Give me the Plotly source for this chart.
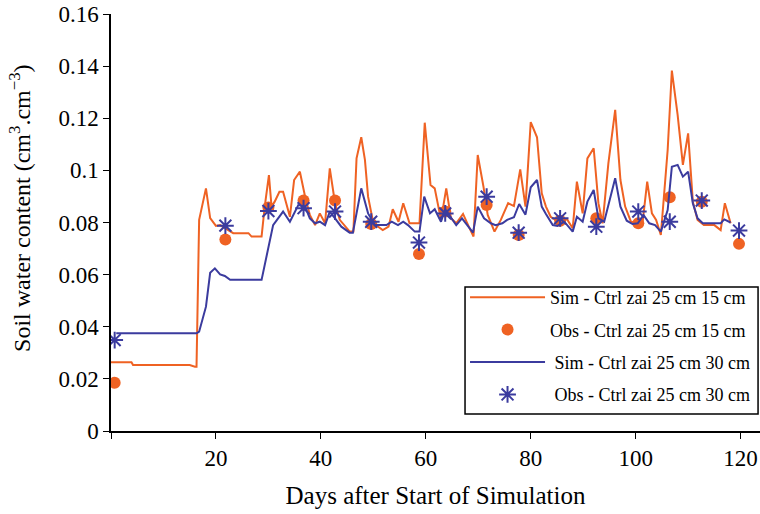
import plotly.graph_objects as go

# Simulated soil water content, 15 cm (orange line) - vertices
sim15_day = [0, 3.9, 4.2, 15, 16, 16.3, 16.8, 18.1, 18.9, 20, 20.8, 23.3, 26.2, 26.8, 28.7,
             29.3, 30.1, 30.6, 31.2, 32.1, 32.8, 34.1, 34.9, 36, 37, 37.9, 38.9, 39.8, 40.8,
             41.7, 42.7, 43.6, 45.5, 46.2, 46.8, 47.7, 48.4, 49, 50, 51.8, 52.9, 53.7, 54.8,
             55.7, 56.9, 58.8, 59.8, 60.9, 61.7, 62.9, 63.9, 64.8, 65.8, 67.1, 68.2, 69.1,
             69.9, 71, 71.8, 73.1, 74.3, 75.7, 76.8, 78, 79, 80, 81.2, 82.1, 82.9, 83.8, 84.9,
             85.7, 87, 88, 88.8, 89.9, 90.8, 92, 92.9, 93.7, 94.8, 96.1, 97.1, 98, 99.1, 101.3,
             102.2, 103.1, 103.9, 104.8, 106.1, 106.9, 108, 109, 110, 110.9, 111.8, 113, 115,
             116.2, 117, 118.1]
sim15_val = [0.0264, 0.0264, 0.0253, 0.0253, 0.0247, 0.0247, 0.081, 0.0931, 0.0817, 0.0787,
             0.079, 0.0759, 0.0759, 0.0746, 0.0746, 0.0861, 0.0982, 0.0861, 0.088, 0.0918,
             0.0918, 0.0822, 0.0963, 0.0995, 0.0899, 0.0829, 0.079, 0.0835, 0.0797, 0.1008,
             0.0874, 0.081, 0.0765, 0.0765, 0.1046, 0.1127, 0.104, 0.0899, 0.0797, 0.0771,
             0.0784, 0.0851, 0.0803, 0.0874, 0.0797, 0.0797, 0.1183, 0.0944, 0.0931, 0.081,
             0.0931, 0.0816, 0.0797, 0.0833, 0.0784, 0.0746, 0.1059, 0.0937, 0.0829, 0.0765,
             0.081, 0.0874, 0.0863, 0.1004, 0.0861, 0.1185, 0.1127, 0.0912, 0.0861, 0.0822,
             0.0807, 0.0816, 0.081, 0.0778, 0.0957, 0.0835, 0.1046, 0.1085, 0.0874, 0.0797,
             0.1027, 0.1232, 0.0963, 0.0861, 0.0803, 0.0797, 0.0957, 0.0835, 0.081, 0.0752,
             0.1078, 0.1383, 0.1213, 0.1021, 0.1142, 0.088, 0.081, 0.079, 0.079, 0.0771,
             0.0874, 0.0797]

# Simulated soil water content, 30 cm (blue line)
sim30_day = [1, 16.3, 16.8, 18.1, 18.9, 19.8, 20.8, 21.7, 22.7, 28.7, 30.9, 32.8, 34.1, 35.7,
             37, 37.9, 38.9, 39.8, 40.8, 41.7, 42.7, 43.9, 45.5, 46.1, 47.7, 49, 50.3, 52.5,
             53.5, 54.7, 55.7, 56.6, 57.9, 58.8, 59.7, 60.8, 61.7, 62.9, 63.7, 64.7, 65.8,
             66.9, 67.9, 69, 69.9, 71.1, 72.4, 73.3, 74.6, 75.5, 76.8, 77.8, 79, 80, 81.2,
             82.1, 82.9, 84.2, 85.1, 86.4, 88, 88.8, 89.9, 90.8, 92, 92.9, 94, 96.1, 97.1,
             98.3, 99.4, 100.4, 101.5, 102.6, 103.7, 104.8, 106.1, 106.9, 108, 109, 110,
             110.9, 111.8, 112.8, 116.2, 116.9, 118.1]
sim30_val = [0.0375, 0.0375, 0.0381, 0.0477, 0.0607, 0.0624, 0.0601, 0.0595, 0.058, 0.058,
             0.079, 0.0842, 0.0803, 0.0867, 0.0861, 0.0816, 0.0797, 0.0803, 0.079, 0.0842,
             0.0816, 0.0784, 0.0761, 0.0761, 0.0931, 0.0835, 0.079, 0.079, 0.0803, 0.079,
             0.0803, 0.079, 0.0765, 0.0765, 0.0899, 0.0835, 0.0851, 0.0803, 0.0851, 0.0822,
             0.079, 0.0816, 0.079, 0.0761, 0.0861, 0.0816, 0.0797, 0.079, 0.0797, 0.081,
             0.082, 0.0871, 0.083, 0.0935, 0.0963, 0.0861, 0.0833, 0.079, 0.0787, 0.0803,
             0.0765, 0.0822, 0.0803, 0.088, 0.0925, 0.0816, 0.0803, 0.097, 0.0861, 0.0807,
             0.0794, 0.0797, 0.0829, 0.0797, 0.079, 0.0765, 0.0848, 0.1014, 0.1021, 0.0976,
             0.0995, 0.0874, 0.0816, 0.0797, 0.0797, 0.0812, 0.08]

# Observations
obs_day = [0.7, 21.8, 30, 36.7, 42.7, 49.6, 58.7, 63.7, 71.6, 77.7, 85.6, 92.5, 100.5,
           106.5, 112.6, 119.7]
obs15_val = [0.0185, 0.0735, 0.0858, 0.0884, 0.0884, 0.0794, 0.0679, 0.0842, 0.0867, 0.0752,
             0.0807, 0.0816, 0.0797, 0.0897, 0.088, 0.0718]
obs30_val = [0.0349, 0.0788, 0.0844, 0.0855, 0.0842, 0.0803, 0.0723, 0.0835, 0.0899, 0.0761,
             0.0816, 0.0784, 0.0842, 0.0803, 0.0884, 0.0769]

x_tickvals = [0, 20, 40, 60, 80, 100, 120]
x_ticktext = ["", "20", "40", "60", "80", "100", "120"]
y_tickvals = [0, 0.02, 0.04, 0.06, 0.08, 0.1, 0.12, 0.14, 0.16]
y_ticktext = ["0", "0.02", "0.04", "0.06", "0.08", "0.1", "0.12", "0.14", "0.16"]

ORANGE = "#EF6223"
BLUE = "#3B3B9E"
FONT = "'Liberation Serif', 'DejaVu Serif', serif"

fig = go.Figure()
fig.add_trace(go.Scatter(x=sim15_day, y=sim15_val, mode="lines",
                         line=dict(color=ORANGE, width=2),
                         name="Sim - Ctrl zai 25 cm 15 cm", legendgroup="a"))
fig.add_trace(go.Scatter(x=obs_day, y=obs15_val, mode="markers",
                         marker=dict(color=ORANGE, size=12, symbol="circle"),
                         name="Obs - Ctrl zai 25 cm 15 cm", legendgroup="b"))
fig.add_trace(go.Scatter(x=sim30_day, y=sim30_val, mode="lines",
                         line=dict(color=BLUE, width=2),
                         name=" Sim - Ctrl zai 25 cm 30 cm", legendgroup="c"))
fig.add_trace(go.Scatter(x=obs_day, y=obs30_val, mode="markers",
                         marker=dict(color=BLUE, size=14, symbol="asterisk-open",
                                     line=dict(color=BLUE, width=2)),
                         name=" Obs - Ctrl zai 25 cm 30 cm", legendgroup="d"))

# legend frame (white box with black border) drawn as a paper-referenced shape
fig.add_shape(type="rect", xref="paper", yref="paper",
              x0=0.5455, x1=0.997, y0=0.0408, y1=0.3453,
              line=dict(color="black", width=1.5), fillcolor="white", layer="above")

fig.add_annotation(text="Soil water content (cm<sup>3</sup>.cm<sup>\u22123</sup>)",
                   xref="paper", yref="paper", x=-0.1402, y=0.535,
                   xanchor="center", yanchor="middle", textangle=-90, showarrow=False,
                   font=dict(family=FONT, size=24, color="black"))

fig.update_layout(
    width=760, height=514,
    margin=dict(l=111, r=0, t=14, b=83),
    paper_bgcolor="white", plot_bgcolor="white",
    font=dict(family=FONT, color="black", size=23),
    showlegend=True,
    legend=dict(x=0.5455, y=0.3645, xanchor="left", yanchor="top",
                borderwidth=0, bgcolor="rgba(0,0,0,0)",
                font=dict(family=FONT, size=18, color="black"),
                traceorder="grouped", tracegroupgap=6, itemwidth=75),
    xaxis=dict(range=[0, 123.7], tickvals=x_tickvals, ticktext=x_ticktext,
               showline=True, linecolor="black", linewidth=1.5,
               ticks="outside", ticklen=6, tickwidth=1.2, tickcolor="black",
               showgrid=False, zeroline=False,
               tickfont=dict(family=FONT, size=23),
               title=dict(text="Days after Start of Simulation",
                          font=dict(family=FONT, size=25), standoff=16)),
    yaxis=dict(range=[0, 0.16], tickvals=y_tickvals, ticktext=y_ticktext,
               showline=True, linecolor="black", linewidth=1.5,
               ticks="outside", ticklen=6, tickwidth=1.2, tickcolor="black",
               showgrid=False, zeroline=False,
               tickfont=dict(family=FONT, size=23)),
)

fig.write_html("out.html")
